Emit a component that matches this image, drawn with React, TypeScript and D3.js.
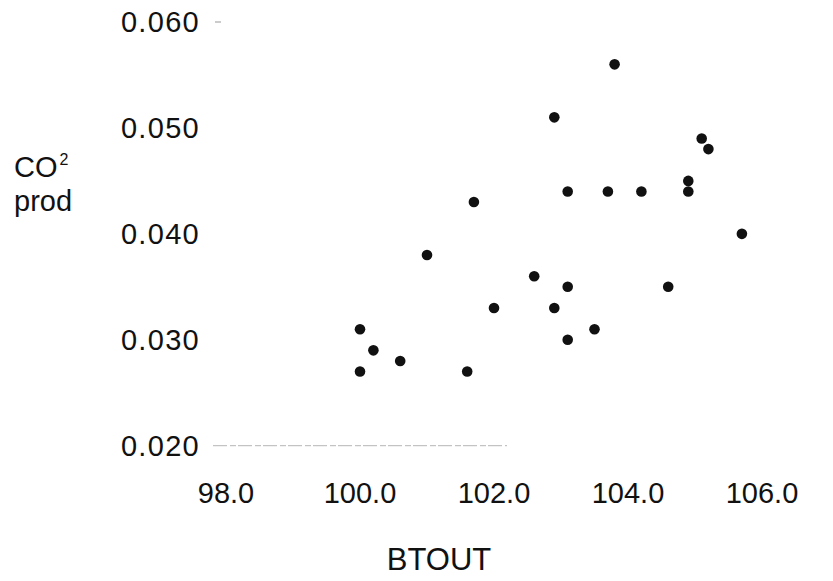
import React from "react";
import * as d3 from "d3";

const btout = [
  103.8, 102.9, 105.1, 105.2, 104.9, 103.1, 103.7, 104.2, 104.9, 101.7, 105.7, 101.0,
  102.6, 103.1, 104.6, 102.0, 102.9, 100.0, 103.5, 103.1, 100.2, 100.6, 100.0, 101.6,
];
const co2prod = [
  0.056, 0.051, 0.049, 0.048, 0.045, 0.044, 0.044, 0.044, 0.044, 0.043, 0.04, 0.038,
  0.036, 0.035, 0.035, 0.033, 0.033, 0.031, 0.031, 0.03, 0.029, 0.028, 0.027, 0.027,
];
const xTicks = [98, 100, 102, 104, 106];
const yTicks = [0.02, 0.03, 0.04, 0.05, 0.06];

export default function App() {
  const W = 833;
  const H = 581;
  const x = d3.scaleLinear().domain([98, 106]).range([226, 762]);
  const y = d3.scaleLinear().domain([0.02, 0.06]).range([445.7, 22]);
  const font = "'Liberation Sans', Arial, sans-serif";
  const pts = btout.map((b, i) => ({ b, c: co2prod[i] }));
  return (
    <svg
      width={W}
      height={H}
      style={{ position: "absolute", left: 0, top: 0, background: "#fff" }}
      fontFamily={font}
    >
      <rect width={W} height={H} fill="#fff" />
      {/* faint axis remnants */}
      <line x1={213} x2={507} y1={y(0.02)} y2={y(0.02)} stroke="#b5b5b5" strokeWidth={1} strokeDasharray="14 3 6 2" />
      <line x1={215} x2={221} y1={y(0.06)} y2={y(0.06)} stroke="#bbb" strokeWidth={1.5} />
      {yTicks.map((t) => (
        <text
          key={t}
          x={200}
          y={y(t)}
          dy="0.36em"
          textAnchor="end"
          fontSize={29}
          letterSpacing={1.3}
          fill="#111"
        >
          {d3.format(".3f")(t)}
        </text>
      ))}
      {xTicks.map((t) => (
        <text key={t} x={x(t)} y={503} textAnchor="middle" fontSize={29} fill="#111">
          {d3.format(".1f")(t)}
        </text>
      ))}
      <text x={439} y={570} textAnchor="middle" fontSize={31} fill="#111">
        BTOUT
      </text>
      <text x={14} y={177} fontSize={29} fill="#111">
        CO
        <tspan fontSize={16} dy={-12} dx={2}>2</tspan>
      </text>
      <text x={14} y={211} fontSize={29} fill="#111">
        prod
      </text>
      {pts.map((p, i) => (
        <circle key={i} cx={x(p.b)} cy={y(p.c)} r={5.3} fill="#111" />
      ))}
    </svg>
  );
}
